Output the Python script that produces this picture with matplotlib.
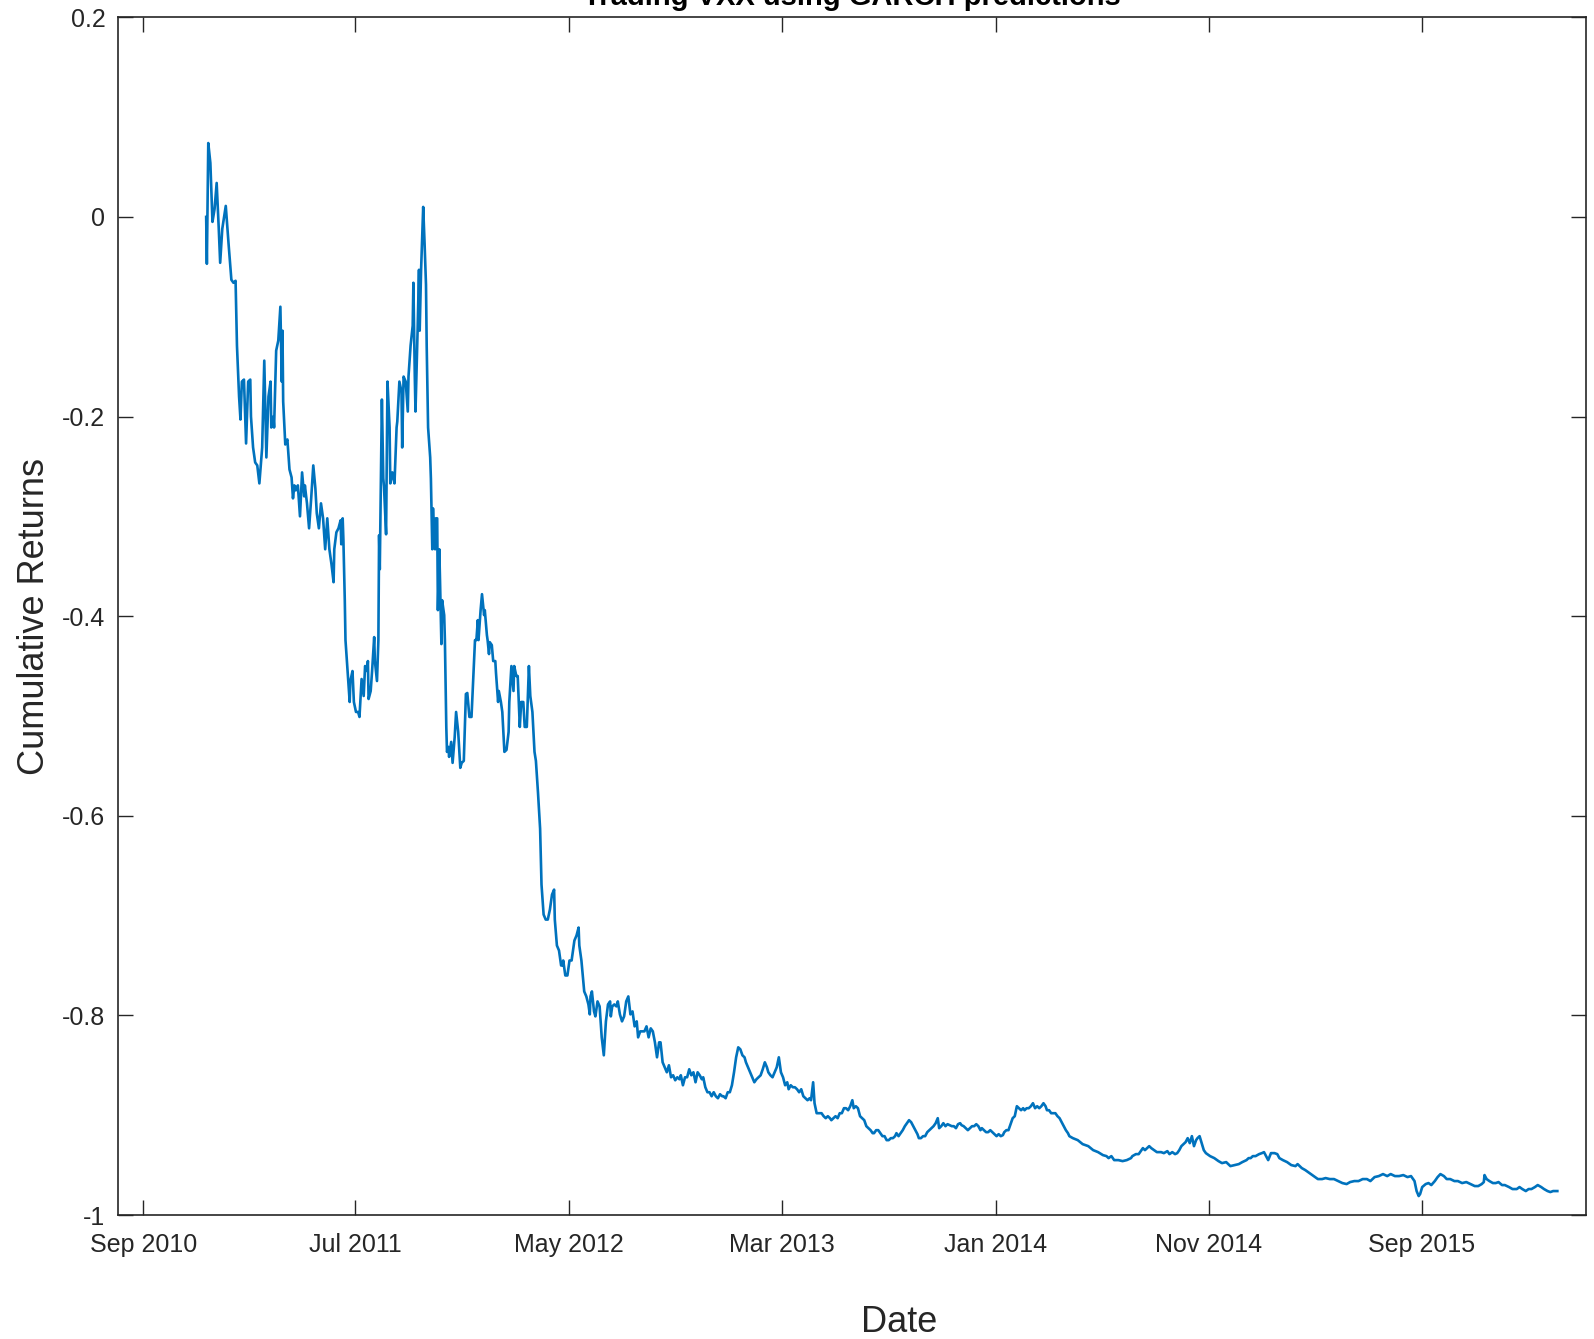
import numpy as np
import pandas as pd
import matplotlib
matplotlib.use("Agg")
import matplotlib.pyplot as plt
import matplotlib.dates as mdates

# ---------------- data ----------------
start_date = "2010-09-01"
days_since_start = [
    90, 91, 93, 96, 99, 102, 105, 108, 110, 113,
    118, 122, 126, 129, 132, 134, 137, 139, 141, 144,
    147, 150, 153, 154, 157, 160, 163, 166, 170, 173,
    176, 179, 182, 183, 186, 187, 190, 193, 196, 198,
    199, 200, 203, 206, 209, 212, 214, 216, 218, 221,
    224, 227, 230, 231, 234, 237, 240, 243, 246, 248,
    251, 254, 257, 260, 263, 266, 269, 272, 273, 276,
    279, 282, 283, 285, 286, 288, 289, 292, 295, 296,
    299, 301, 304, 307, 309, 312, 315, 317, 320, 321,
    322, 325, 327, 330, 331, 334, 336, 337, 338, 341,
    343, 344, 347, 349, 352, 353, 356, 359, 362, 363,
    366, 369, 370, 372, 375, 378, 379, 382, 385, 386,
    388, 389, 392, 394, 395, 397, 400, 402, 404, 405,
    407, 410, 411, 413, 414, 415, 417, 418, 420, 421,
    423, 424, 426, 427, 429, 430, 431, 433, 434, 436,
    437, 440, 442, 445, 447, 450, 453, 455, 458, 461,
    463, 466, 469, 472, 474, 476, 478, 479, 482, 484,
    487, 488, 491, 492, 494, 495, 498, 500, 503, 504,
    507, 508, 511, 513, 516, 519, 522, 523, 526, 529,
    530, 533, 535, 538, 540, 543, 545, 548, 551, 553,
    556, 559, 561, 564, 567, 569, 572, 575, 578, 581,
    584, 587, 588, 591, 594, 597, 599, 600, 603, 606,
    609, 612, 614, 616, 619, 622, 623, 626, 628, 630,
    633, 636, 638, 639, 641, 644, 646, 649, 652, 655,
    658, 661, 664, 667, 668, 670, 673, 676, 678, 681,
    684, 687, 690, 693, 696, 699, 702, 705, 707, 710,
    713, 716, 719, 722, 725, 728, 731, 734, 737, 739,
    742, 745, 748, 751, 754, 757, 760, 763, 766, 768,
    771, 774, 777, 780, 783, 786, 789, 792, 795, 798,
    800, 803, 806, 809, 812, 815, 818, 821, 824, 827,
    829, 832, 835, 838, 841, 844, 847, 850, 853, 856,
    859, 861, 864, 867, 870, 873, 876, 879, 882, 885,
    888, 891, 893, 896, 899, 902, 905, 908, 911, 914,
    917, 920, 922, 925, 928, 931, 934, 937, 940, 943,
    946, 949, 952, 954, 957, 959, 962, 965, 969, 972,
    975, 978, 981, 983, 986, 989, 992, 995, 998, 1001,
    1004, 1007, 1010, 1013, 1015, 1018, 1021, 1024, 1027, 1030,
    1033, 1036, 1039, 1042, 1044, 1047, 1050, 1053, 1056, 1059,
    1062, 1065, 1068, 1071, 1074, 1076, 1079, 1082, 1085, 1088,
    1091, 1094, 1097, 1100, 1103, 1106, 1108, 1111, 1114, 1117,
    1120, 1123, 1126, 1129, 1132, 1135, 1137, 1140, 1143, 1146,
    1149, 1152, 1155, 1158, 1161, 1164, 1167, 1169, 1172, 1175,
    1178, 1181, 1184, 1187, 1190, 1193, 1196, 1198, 1201, 1204,
    1207, 1210, 1213, 1216, 1219, 1222, 1225, 1228, 1230, 1233,
    1236, 1239, 1242, 1245, 1248, 1251, 1254, 1257, 1259, 1262,
    1265, 1268, 1271, 1274, 1277, 1280, 1283, 1286, 1289, 1291,
    1294, 1297, 1300, 1303, 1306, 1309, 1312, 1315, 1318, 1321,
    1323, 1328, 1335, 1342, 1350, 1357, 1364, 1371, 1376, 1379,
    1383, 1387, 1393, 1399, 1405, 1411, 1413, 1418, 1422, 1428,
    1431, 1434, 1437, 1440, 1444, 1448, 1454, 1458, 1463, 1466,
    1470, 1474, 1477, 1480, 1483, 1486, 1489, 1492, 1495, 1498,
    1501, 1504, 1506, 1509, 1512, 1515, 1518, 1524, 1530, 1536,
    1541, 1547, 1553, 1559, 1565, 1570, 1576, 1579, 1582, 1585,
    1589, 1594, 1598, 1601, 1604, 1607, 1611, 1616, 1620, 1623,
    1628, 1634, 1640, 1646, 1649, 1655, 1660, 1666, 1672, 1678,
    1684, 1689, 1695, 1701, 1707, 1713, 1719, 1724, 1730, 1736,
    1742, 1748, 1753, 1759, 1765, 1771, 1777, 1782, 1788, 1794,
    1800, 1806, 1811, 1816, 1819, 1822, 1824, 1827, 1832, 1836,
    1840, 1845, 1849, 1853, 1858, 1862, 1867, 1873, 1878, 1884,
    1890, 1896, 1902, 1907, 1912, 1915, 1916, 1919, 1923, 1928,
    1932, 1936, 1941, 1945, 1951, 1956, 1962, 1966, 1970, 1975,
    1979, 1983, 1988, 1992, 1997, 2001, 2006, 2010, 2014, 2020,
]
cumulative_returns = [
    0.000, -0.047, 0.074, 0.054, -0.005, 0.008, 0.034, -0.012, -0.046, -0.012,
    0.011, -0.027, -0.063, -0.066, -0.064, -0.129, -0.180, -0.203, -0.165, -0.163,
    -0.227, -0.165, -0.163, -0.200, -0.231, -0.246, -0.249, -0.267, -0.231, -0.144,
    -0.241, -0.180, -0.165, -0.211, -0.200, -0.211, -0.134, -0.124, -0.090, -0.165,
    -0.114, -0.185, -0.228, -0.223, -0.253, -0.261, -0.282, -0.269, -0.274, -0.269,
    -0.300, -0.256, -0.280, -0.269, -0.287, -0.312, -0.282, -0.249, -0.272, -0.297,
    -0.312, -0.287, -0.302, -0.333, -0.302, -0.333, -0.348, -0.366, -0.333, -0.316,
    -0.312, -0.304, -0.328, -0.302, -0.323, -0.384, -0.424, -0.455, -0.486, -0.465,
    -0.455, -0.486, -0.496, -0.496, -0.501, -0.463, -0.480, -0.450, -0.455, -0.445,
    -0.483, -0.475, -0.455, -0.421, -0.445, -0.465, -0.424, -0.319, -0.353, -0.183,
    -0.262, -0.270, -0.318, -0.165, -0.211, -0.267, -0.256, -0.267, -0.211, -0.205,
    -0.165, -0.175, -0.231, -0.160, -0.165, -0.195, -0.160, -0.129, -0.109, -0.066,
    -0.160, -0.195, -0.114, -0.053, -0.114, -0.053, 0.010, -0.027, -0.068, -0.129,
    -0.211, -0.241, -0.262, -0.333, -0.292, -0.312, -0.333, -0.302, -0.302, -0.394,
    -0.333, -0.363, -0.428, -0.384, -0.394, -0.399, -0.424, -0.511, -0.536, -0.531,
    -0.541, -0.526, -0.547, -0.521, -0.496, -0.516, -0.552, -0.547, -0.545, -0.478,
    -0.477, -0.501, -0.501, -0.455, -0.424, -0.424, -0.404, -0.424, -0.394, -0.378,
    -0.399, -0.394, -0.419, -0.424, -0.438, -0.426, -0.429, -0.445, -0.445, -0.457,
    -0.486, -0.475, -0.486, -0.496, -0.536, -0.534, -0.516, -0.486, -0.450, -0.475,
    -0.450, -0.460, -0.460, -0.511, -0.486, -0.486, -0.511, -0.511, -0.450, -0.480,
    -0.496, -0.536, -0.545, -0.577, -0.613, -0.669, -0.699, -0.704, -0.704, -0.694,
    -0.679, -0.674, -0.704, -0.730, -0.735, -0.750, -0.750, -0.745, -0.760, -0.760,
    -0.745, -0.745, -0.735, -0.725, -0.720, -0.712, -0.730, -0.745, -0.760, -0.776,
    -0.781, -0.789, -0.799, -0.781, -0.776, -0.796, -0.801, -0.786, -0.791, -0.822,
    -0.840, -0.806, -0.789, -0.786, -0.801, -0.791, -0.789, -0.791, -0.786, -0.799,
    -0.806, -0.801, -0.786, -0.781, -0.799, -0.796, -0.811, -0.806, -0.822, -0.816,
    -0.816, -0.816, -0.811, -0.822, -0.813, -0.816, -0.827, -0.842, -0.827, -0.827,
    -0.847, -0.852, -0.857, -0.850, -0.862, -0.860, -0.865, -0.862, -0.864, -0.860,
    -0.870, -0.862, -0.862, -0.854, -0.860, -0.857, -0.867, -0.857, -0.860, -0.864,
    -0.862, -0.872, -0.877, -0.877, -0.881, -0.877, -0.881, -0.883, -0.879, -0.881,
    -0.881, -0.883, -0.877, -0.877, -0.870, -0.857, -0.842, -0.832, -0.834, -0.840,
    -0.842, -0.847, -0.852, -0.857, -0.862, -0.867, -0.864, -0.862, -0.860, -0.854,
    -0.847, -0.852, -0.857, -0.860, -0.862, -0.857, -0.852, -0.842, -0.857, -0.862,
    -0.870, -0.867, -0.874, -0.870, -0.872, -0.872, -0.874, -0.877, -0.874, -0.881,
    -0.883, -0.885, -0.883, -0.885, -0.867, -0.888, -0.898, -0.898, -0.898, -0.901,
    -0.903, -0.901, -0.903, -0.905, -0.903, -0.901, -0.903, -0.898, -0.898, -0.893,
    -0.893, -0.895, -0.891, -0.885, -0.893, -0.891, -0.893, -0.901, -0.903, -0.905,
    -0.911, -0.913, -0.915, -0.918, -0.918, -0.915, -0.915, -0.918, -0.921, -0.921,
    -0.925, -0.925, -0.923, -0.923, -0.921, -0.918, -0.921, -0.918, -0.915, -0.911,
    -0.908, -0.905, -0.907, -0.911, -0.915, -0.919, -0.923, -0.923, -0.921, -0.921,
    -0.917, -0.915, -0.913, -0.911, -0.908, -0.903, -0.913, -0.911, -0.908, -0.911,
    -0.909, -0.910, -0.911, -0.911, -0.913, -0.909, -0.908, -0.910, -0.911, -0.913,
    -0.915, -0.913, -0.911, -0.911, -0.909, -0.911, -0.915, -0.913, -0.915, -0.917,
    -0.917, -0.915, -0.917, -0.919, -0.921, -0.919, -0.921, -0.920, -0.917, -0.915,
    -0.915, -0.909, -0.903, -0.901, -0.891, -0.893, -0.895, -0.893, -0.895, -0.893,
    -0.893, -0.891, -0.888, -0.893, -0.891, -0.893, -0.891, -0.888, -0.891, -0.895,
    -0.895, -0.898, -0.898, -0.898, -0.901, -0.903, -0.907, -0.911, -0.915, -0.918,
    -0.921, -0.923, -0.925, -0.929, -0.931, -0.935, -0.937, -0.940, -0.941, -0.943,
    -0.941, -0.945, -0.945, -0.946, -0.945, -0.943, -0.941, -0.939, -0.939, -0.933,
    -0.935, -0.933, -0.931, -0.933, -0.935, -0.937, -0.937, -0.938, -0.936, -0.939,
    -0.937, -0.939, -0.938, -0.935, -0.931, -0.929, -0.927, -0.923, -0.928, -0.921,
    -0.931, -0.925, -0.923, -0.921, -0.928, -0.935, -0.938, -0.941, -0.943, -0.946,
    -0.948, -0.947, -0.951, -0.950, -0.949, -0.947, -0.945, -0.943, -0.943, -0.941,
    -0.941, -0.939, -0.938, -0.937, -0.941, -0.945, -0.938, -0.938, -0.939, -0.943,
    -0.945, -0.947, -0.950, -0.951, -0.949, -0.953, -0.955, -0.958, -0.961, -0.964,
    -0.964, -0.963, -0.964, -0.964, -0.966, -0.968, -0.969, -0.967, -0.966, -0.966,
    -0.964, -0.964, -0.966, -0.962, -0.961, -0.959, -0.961, -0.959, -0.961, -0.961,
    -0.960, -0.962, -0.961, -0.966, -0.976, -0.981, -0.979, -0.972, -0.969, -0.968,
    -0.970, -0.966, -0.962, -0.959, -0.961, -0.964, -0.964, -0.966, -0.966, -0.968,
    -0.967, -0.969, -0.971, -0.971, -0.969, -0.967, -0.960, -0.964, -0.966, -0.968,
    -0.968, -0.967, -0.970, -0.970, -0.972, -0.974, -0.974, -0.972, -0.974, -0.976,
    -0.974, -0.974, -0.972, -0.970, -0.972, -0.974, -0.976, -0.977, -0.976, -0.976,
]
x_tick_dates = ["2010-09-01", "2011-07-01", "2012-05-01", "2013-03-01",
                "2014-01-01", "2014-11-01", "2015-09-01"]
y_ticks = [-1.0, -0.8, -0.6, -0.4, -0.2, 0.0, 0.2]
x_limits = ["2010-07-27", "2016-04-23"]

title_text = "Trading VXX using GARCH predictions"
x_label = "Date"
y_label = "Cumulative Returns"

assert len(days_since_start) == len(cumulative_returns)

# ---------------- plot ----------------
plt.rcParams['font.family'] = ['Liberation Sans', 'DejaVu Sans']
DARK = '#262626'
LINE = '#0072BD'

fig = plt.figure(figsize=(15.94, 13.39), dpi=100)
ax = fig.add_axes([0.0740, 0.0926, 0.9210, 0.8945])

dates = pd.Timestamp(start_date) + pd.to_timedelta(days_since_start, unit='D')
ax.plot(dates, cumulative_returns, color=LINE, linewidth=1.9)

ax.set_xlim(pd.Timestamp(x_limits[0]), pd.Timestamp(x_limits[1]))
ax.set_ylim(-1, 0.2)

xt = [pd.Timestamp(d) for d in x_tick_dates]
ax.set_xticks(xt)
ax.set_xticklabels([d.strftime('%b %Y') for d in xt])
ax.set_yticks(y_ticks)
ax.set_yticklabels([('%g' % v) for v in y_ticks])

ax.tick_params(axis='both', direction='in', length=11, width=1.0,
               colors=DARK, labelsize=18, top=True, right=True)
ax.tick_params(axis='x', pad=13)
ax.tick_params(axis='y', pad=9)
for s in ax.spines.values():
    s.set_color(DARK)
    s.set_linewidth(1.2)

ax.set_title(title_text, fontsize=21, fontweight='bold', color='black', pad=9)
ax.set_xlabel(x_label, fontsize=26, color=DARK)
ax.set_ylabel(y_label, fontsize=26, color=DARK)
ax.xaxis.set_label_coords(0.532, -0.075)
ax.yaxis.set_label_coords(-0.045, 0.5)

fig.savefig("out.png", dpi=100)
